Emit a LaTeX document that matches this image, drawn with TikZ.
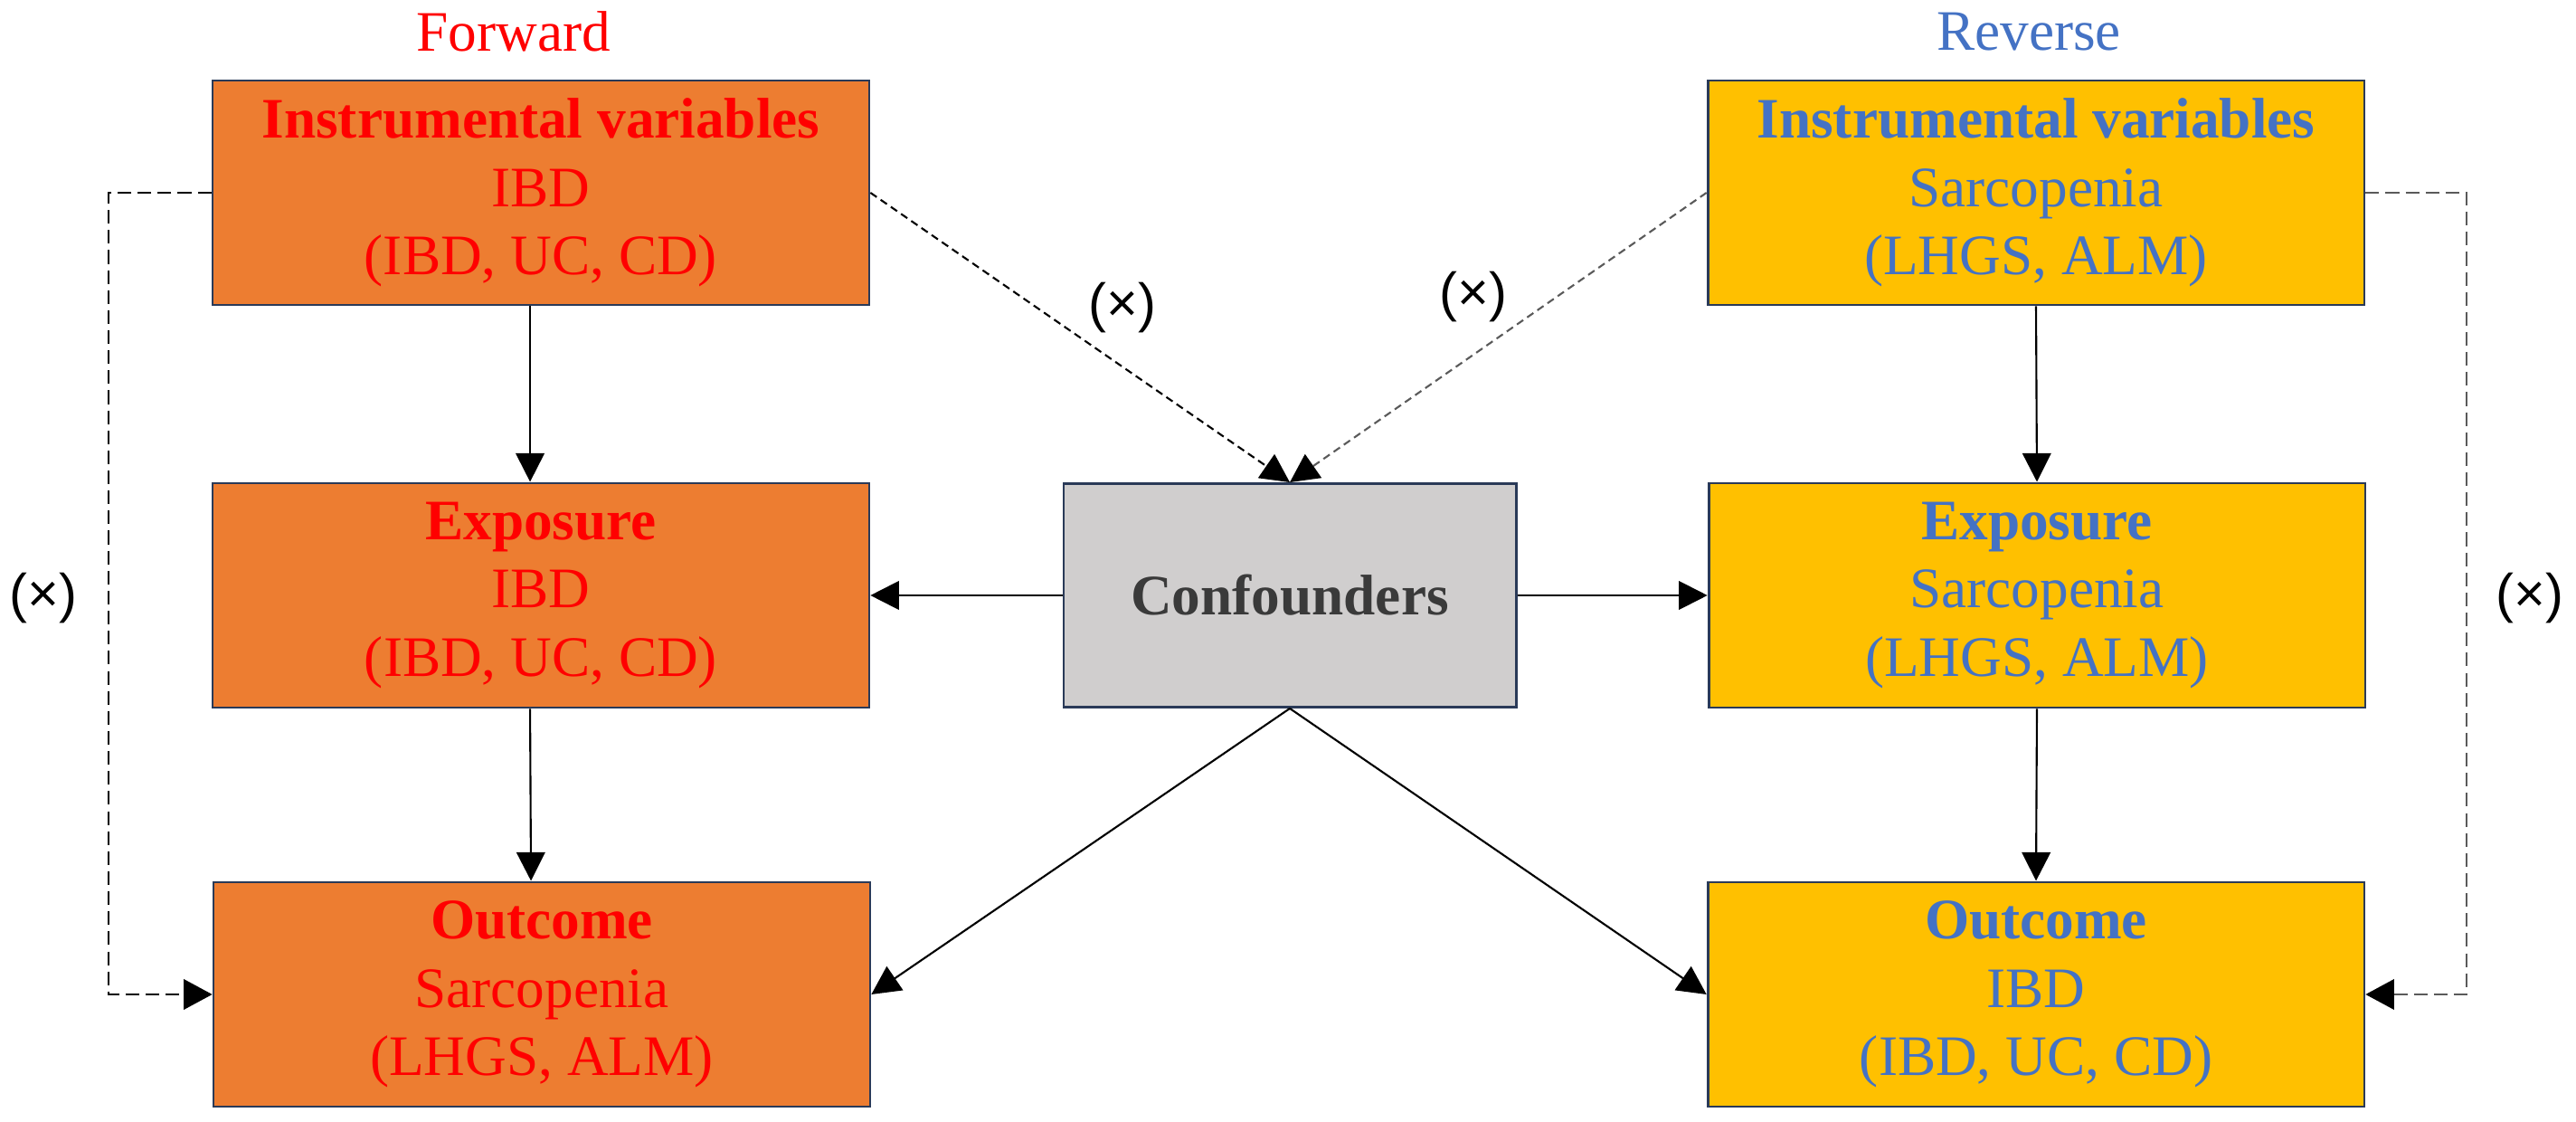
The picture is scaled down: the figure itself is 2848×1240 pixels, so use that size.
\documentclass[tikz,border=0pt]{standalone}
\usepackage{fontspec}
\setmainfont{Liberation Serif}
\newfontfamily\lsans{Liberation Sans}
\usetikzlibrary{arrows.meta}
\definecolor{boxorange}{HTML}{ED7D31}
\definecolor{boxgold}{HTML}{FFC000}
\definecolor{txtred}{HTML}{FF0000}
\definecolor{txtblue}{HTML}{4472C4}
\definecolor{boxline}{HTML}{2A3A58}
\definecolor{confgray}{HTML}{D0CECE}
\definecolor{conftext}{HTML}{3A3A3A}
\definecolor{dashgray}{HTML}{5A5A5A}
\begin{document}
\begin{tikzpicture}[x=0.2845pt,y=-0.2845pt,
  box/.style={draw=boxline,line width=0.8pt,minimum width=206.5pt,minimum height=70.6pt,
    align=center,inner sep=0pt,font=\fontsize{18}{21.5}\selectfont},
  fwdbox/.style={box,fill=boxorange,text=txtred},
  revbox/.style={box,fill=boxgold,text=txtblue},
  confbox/.style={box,fill=confgray,text=conftext,minimum width=142.3pt,minimum height=70.3pt,
    font=\fontsize{18}{21.5}\selectfont\bfseries},
  headlbl/.style={font=\fontsize{18}{21.5}\selectfont,inner sep=0pt},
  crosslbl/.style={font=\lsans\fontsize{17}{20}\selectfont,inner sep=0pt},
  conn/.style={line width=0.6pt,-{Triangle[length=9pt,width=9pt,color=black]}},
  dashouter/.style={line width=0.75pt,dash pattern=on 4.3pt off 2pt,-{Triangle[length=9pt,width=9.5pt,color=black]}},
  dashdiag/.style={line width=0.6pt,dash pattern=on 2.4pt off 1.5pt,-{Triangle[length=9pt,width=9pt,color=black]}}
]
\useasboundingbox (0,0) rectangle (2848,1240);

% headings
\node[headlbl,text=txtred] (fwdlbl) at (568,35) {Forward};
\node[headlbl,text=txtblue] (revlbl) at (2243,35) {Reverse};

% forward boxes
\node[fwdbox] (tl) at (598,213) {\textbf{Instrumental variables}\\IBD\\(IBD, UC, CD)};
\node[fwdbox] (el) at (598,658) {\textbf{Exposure}\\IBD\\(IBD, UC, CD)};
\node[fwdbox] (ol) at (599,1099) {\textbf{Outcome}\\Sarcopenia\\(LHGS, ALM)};

% reverse boxes
\node[revbox] (tr) at (2251,213) {\textbf{Instrumental variables}\\Sarcopenia\\(LHGS, ALM)};
\node[revbox] (er) at (2252,658) {\textbf{Exposure}\\Sarcopenia\\(LHGS, ALM)};
\node[revbox] (or) at (2251,1099) {\textbf{Outcome}\\IBD\\(IBD, UC, CD)};

% confounders
\node[confbox] (conf) at (1426,658) {Confounders};

% vertical arrows
\draw[conn] ([xshift=-3.4pt]tl.south) -- ([xshift=-3.4pt]el.north);
\draw[conn] ([xshift=-3.4pt]el.south) -- ([xshift=-3.4pt]ol.north);
\draw[conn] (tr.south) -- (er.north);
\draw[conn] (er.south) -- (or.north);

% confounder arrows
\draw[conn] (conf.west) -- (el.east);
\draw[conn] (conf.east) -- (er.west);
\draw[conn] (conf.south) -- (ol.east);
\draw[conn] (conf.south) -- (or.west);

% diagonal dashed
\draw[dashdiag] (tl.east) -- (conf.north);
\draw[dashdiag,draw=dashgray] (tr.west) -- (conf.north);

% outer dashed
\coordinate (lbend) at (120,213);
\coordinate (rbend) at (2727,213);
\draw[dashouter] (tl.west) -- (lbend) |- (ol.west);
\draw[dashouter,draw=dashgray] (tr.east) -- (rbend) |- (or.east);

% cross labels
\node[crosslbl] (xl) at (48,661) {(×)};
\node[crosslbl] (xr) at (2797,661) {(×)};
\node[crosslbl] (xdl) at (1241,340) {(×)};
\node[crosslbl] (xdr) at (1629,328) {(×)};
\end{tikzpicture}
\end{document}
